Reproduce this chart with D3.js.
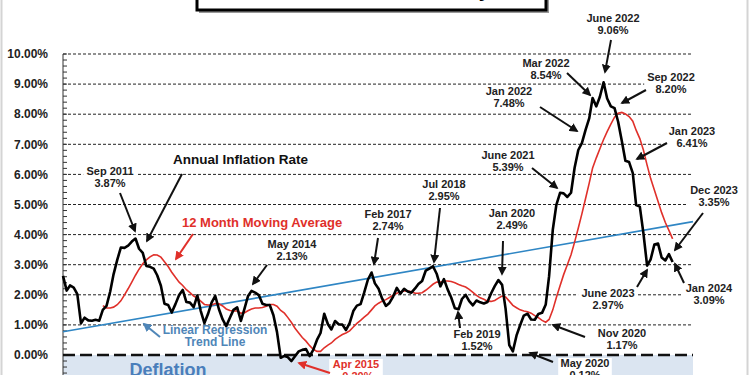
<html>
<head><meta charset="utf-8"/></head>
<script src="https://d3js.org/d3.v7.min.js"></script>
<style>
  body {margin: 0; background: #fff;}
  text {font-family: Arial, "Liberation Sans", sans-serif; font-weight: bold;}
</style>
<body>
<svg width="750" height="375"></svg>
<script>
// annual inflation rate, monthly from Jan 2010 to Jan 2024
var startYear = 2010;
var inflation = [
  2.63, 2.14, 2.31, 2.24, 2.02, 1.05, 1.24, 1.15, 1.14, 1.17, 1.14, 1.50,
  1.63, 2.11, 2.68, 3.16, 3.57, 3.56, 3.63, 3.77, 3.87, 3.53, 3.39, 2.96,
  2.93, 2.87, 2.65, 2.30, 1.70, 1.66, 1.41, 1.69, 1.99, 2.16, 1.76, 1.74,
  1.59, 1.98, 1.47, 1.06, 1.36, 1.75, 1.96, 1.52, 1.18, 0.96, 1.24, 1.50,
  1.58, 1.13, 1.51, 1.95, 2.13, 2.07, 1.99, 1.70, 1.66, 1.66, 1.32, 0.76,
  -0.09, -0.03, -0.07, -0.20, -0.04, 0.12, 0.17, 0.20, -0.04, 0.17, 0.50, 0.73,
  1.37, 1.02, 0.85, 1.13, 1.02, 1.01, 0.83, 1.06, 1.46, 1.64, 1.69, 2.07,
  2.50, 2.74, 2.38, 2.20, 1.87, 1.63, 1.73, 1.94, 2.23, 2.04, 2.20, 2.11,
  2.07, 2.21, 2.36, 2.46, 2.80, 2.87, 2.95, 2.70, 2.28, 2.52, 2.18, 1.91,
  1.55, 1.52, 1.86, 2.00, 1.79, 1.65, 1.81, 1.75, 1.71, 1.76, 2.05, 2.29,
  2.49, 2.33, 1.54, 0.33, 0.12, 0.65, 0.99, 1.31, 1.37, 1.18, 1.17, 1.36,
  1.40, 1.68, 2.62, 4.16, 4.99, 5.39, 5.37, 5.25, 5.39, 6.22, 6.81, 7.04,
  7.48, 7.87, 8.54, 8.26, 8.58, 9.06, 8.52, 8.26, 8.20, 7.75, 7.11, 6.45,
  6.41, 6.04, 4.98, 4.93, 4.05, 2.97, 3.18, 3.67, 3.70, 3.24, 3.14, 3.35,
  3.09
];

// 12 month moving average, from Dec 2010 (month index 11)
var maStart = 11;
var movingAvg = [
  1.64,
  1.56, 1.56, 1.59, 1.67, 1.80, 2.00, 2.20, 2.42, 2.65, 2.85, 3.03, 3.16,
  3.26, 3.33, 3.32, 3.25, 3.10, 2.94, 2.75, 2.58, 2.42, 2.31, 2.17, 2.07,
  1.96, 1.89, 1.79, 1.68, 1.66, 1.66, 1.71, 1.70, 1.63, 1.53, 1.48, 1.46,
  1.46, 1.39, 1.40, 1.47, 1.53, 1.56, 1.56, 1.58, 1.62, 1.68, 1.68, 1.62,
  1.48, 1.39, 1.25, 1.08, 0.89, 0.73, 0.58, 0.46, 0.31, 0.19, 0.12, 0.12,
  0.24, 0.33, 0.40, 0.52, 0.60, 0.68, 0.73, 0.80, 0.93, 1.05, 1.15, 1.26,
  1.36, 1.50, 1.63, 1.72, 1.79, 1.84, 1.91, 1.99, 2.05, 2.09, 2.13, 2.13,
  2.10, 2.05, 2.05, 2.07, 2.15, 2.25, 2.35, 2.42, 2.42, 2.46, 2.46, 2.44,
  2.40, 2.34, 2.30, 2.26, 2.18, 2.08, 1.98, 1.90, 1.85, 1.79, 1.78, 1.81,
  1.89, 1.96, 1.93, 1.79, 1.65, 1.57, 1.50, 1.46, 1.44, 1.39, 1.31, 1.24,
  1.15, 1.09, 1.18, 1.50, 1.91, 2.30, 2.67, 3.00, 3.33, 3.75, 4.22, 4.69,
  5.20, 5.72, 6.21, 6.55, 6.85, 7.16, 7.42, 7.67, 7.90, 8.03, 8.06, 8.01,
  7.92, 7.77, 7.47, 7.19, 6.81, 6.31, 5.86, 5.48, 5.10, 4.73, 4.40, 4.14,
  3.86
];

// linear regression trend line, value at left and right edge
var trendEnds = [0.77, 4.43];

var yTicks = [1, 2, 3, 4, 5, 6, 7, 8, 9, 10];
var yLabels = ["0.00%", "1.00%", "2.00%", "3.00%", "4.00%", "5.00%", "6.00%", "7.00%", "8.00%", "9.00%", "10.00%"];

// callouts: two line labels with arrows
var callouts = [
  {t: ["Sep 2011", "3.87%"], x: 110, y: 175, a: [120, 193, 135, 231]},
  {t: ["May 2014", "2.13%"], x: 292, y: 248, a: [267, 265, 253, 284]},
  {t: ["Apr 2015", "-0.20%"], x: 356, y: 368, a: [330, 373, 299, 363], c: "red"},
  {t: ["Feb 2017", "2.74%"], x: 388, y: 218, a: [378, 238, 374, 264]},
  {t: ["Jul 2018", "2.95%"], x: 444, y: 188, a: [440, 208, 434, 262]},
  {t: ["Feb 2019", "1.52%"], x: 477, y: 338, a: [460, 328, 458, 312]},
  {t: ["Jan 2020", "2.49%"], x: 512, y: 217, a: [503, 241, 502, 274]},
  {t: ["May 2020", "0.12%"], x: 585, y: 367, a: [553, 362, 530, 353]},
  {t: ["Nov 2020", "1.17%"], x: 622, y: 337, a: [585, 337, 553, 325]},
  {t: ["June 2021", "5.39%"], x: 508, y: 159, a: [532, 168, 557, 188]},
  {t: ["Jan 2022", "7.48%"], x: 509, y: 95, a: [540, 107, 577, 131]},
  {t: ["Mar 2022", "8.54%"], x: 546, y: 67, a: [567, 73, 590, 95]},
  {t: ["June 2022", "9.06%"], x: 613, y: 22, a: [611, 40, 605, 72]},
  {t: ["Sep 2022", "8.20%"], x: 671, y: 81, a: [646, 90, 622, 103]},
  {t: ["Jan 2023", "6.41%"], x: 692, y: 135, a: [667, 143, 637, 159]},
  {t: ["June 2023", "2.97%"], x: 608, y: 297, a: [637, 287, 647, 270]},
  {t: ["Dec 2023", "3.35%"], x: 714, y: 194, a: [703, 213, 675, 250]},
  {t: ["Jan 2024", "3.09%"], x: 709, y: 292, a: [684, 283, 675, 264]}
];

var colors = {black: "#111", red: "#e0302a", blue: "#4f86b8"};

var svg = d3.select("svg");
var left = 63, right = 693;

var x = d3.scaleTime()
  .domain([new Date(startYear, 0, 1), new Date(2024, 5, 20)])
  .range([left, right]);
var y = d3.scaleLinear().domain([0, 10]).range([355, 54]);

function monthDate(i) { return new Date(startYear, i, 1); }

// border
svg.append("rect").attr("x", 1.5).attr("y", -5).attr("width", 746).attr("height", 390)
  .attr("fill", "#fff").attr("stroke", "#d4d4d4").attr("stroke-width", 2);

// title box, mostly above the visible area
svg.append("rect").attr("x", 199).attr("y", -40).attr("width", 350).attr("height", 53)
  .attr("fill", "#999");
svg.append("rect").attr("x", 197).attr("y", -40).attr("width", 349).attr("height", 50)
  .attr("fill", "#fff").attr("stroke", "#000").attr("stroke-width", 3);
svg.append("text").attr("x", 371).attr("y", -3).attr("text-anchor", "middle")
  .style("font-size", "20px").text("Annual Inflation Rate, January 2024");

// deflation area
svg.append("rect").attr("x", left).attr("y", y(0)).attr("width", right - left).attr("height", 30)
  .attr("fill", "#dbe5f1");
svg.append("text").attr("x", 168).attr("y", 376).attr("text-anchor", "middle")
  .attr("fill", "#4a7ebb").style("font-size", "18px").text("Deflation");

// grid lines
svg.append("g").selectAll("line").data(yTicks).join("line")
  .attr("x1", left).attr("x2", right)
  .attr("y1", d => y(d)).attr("y2", d => y(d))
  .attr("stroke", "#222").attr("stroke-width", 1).attr("stroke-dasharray", "3,2");

// white boxes behind labels break the grid lines
var boxes = svg.append("g");
callouts.forEach(function(c) {
  var w = c.t[0].length * 6.2 + 4;
  boxes.append("rect").attr("x", c.x - w / 2).attr("y", c.y - 9)
    .attr("width", w).attr("height", 23).attr("fill", "#fff");
});

// y axis with minor ticks
svg.append("line").attr("x1", left).attr("x2", left).attr("y1", y(10)).attr("y2", 380)
  .attr("stroke", "#333").attr("stroke-width", 1);
svg.append("g").selectAll("line").data(d3.range(-3, 51).map(d => d / 5)).join("line")
  .attr("x1", left).attr("x2", left + 4)
  .attr("y1", d => y(d)).attr("y2", d => y(d))
  .attr("stroke", "#333");
svg.append("g").selectAll("text").data(yLabels).join("text")
  .attr("x", 48).attr("y", (d, i) => y(i)).attr("dy", "0.35em")
  .attr("text-anchor", "end").attr("fill", "#222").style("font-size", "12px")
  .text(d => d);

// zero line
svg.append("line").attr("x1", left).attr("x2", right).attr("y1", y(0)).attr("y2", y(0))
  .attr("stroke", "#111").attr("stroke-width", 2.5).attr("stroke-dasharray", "12,5");

// trend line
svg.append("line")
  .attr("x1", x(x.domain()[0])).attr("y1", y(trendEnds[0]))
  .attr("x2", x(x.domain()[1])).attr("y2", y(trendEnds[1]))
  .attr("stroke", "#2f86c4").attr("stroke-width", 1.6);

// moving average
var line = d3.line().x(d => x(d[0])).y(d => y(d[1]));
svg.append("path")
  .datum(movingAvg.map((v, i) => [monthDate(maStart + i), v]))
  .attr("d", line).attr("fill", "none")
  .attr("stroke", "#e0302a").attr("stroke-width", 1.6);

// annual inflation
svg.append("path")
  .datum(inflation.map((v, i) => [monthDate(i), v]))
  .attr("d", line).attr("fill", "none")
  .attr("stroke", "#000").attr("stroke-width", 2.6)
  .attr("stroke-linejoin", "round");

// arrow heads
var defs = svg.append("defs");
Object.keys(colors).forEach(function(k) {
  defs.append("marker").attr("id", "head-" + k)
    .attr("viewBox", "0 0 10 10").attr("refX", 8).attr("refY", 5)
    .attr("markerWidth", 4.5).attr("markerHeight", 4.5).attr("orient", "auto")
    .append("path").attr("d", "M0,0 L10,5 L0,10 z").attr("fill", colors[k]);
});

function arrow(a, col) {
  svg.append("line").attr("x1", a[0]).attr("y1", a[1]).attr("x2", a[2]).attr("y2", a[3])
    .attr("stroke", colors[col]).attr("stroke-width", 2)
    .attr("marker-end", "url(#head-" + col + ")");
}

callouts.forEach(function(c) {
  var col = c.c || "black";
  arrow(c.a, col);
  var t = svg.append("text").attr("x", c.x).attr("y", c.y).attr("text-anchor", "middle")
    .attr("fill", col == "red" ? colors.red : "#222").style("font-size", "11px");
  t.append("tspan").attr("x", c.x).text(c.t[0]);
  t.append("tspan").attr("x", c.x).attr("dy", 12).text(c.t[1]);
});

// series labels
svg.append("text").attr("x", 173).attr("y", 164).attr("fill", "#111")
  .style("font-size", "13.5px").text("Annual Inflation Rate");
arrow([182, 174, 147, 241], "black");

svg.append("text").attr("x", 182).attr("y", 227).attr("fill", colors.red)
  .style("font-size", "13px").text("12 Month Moving Average");
arrow([193, 234, 176, 259], "red");

var lr = svg.append("text").attr("x", 215).attr("y", 334).attr("text-anchor", "middle")
  .attr("fill", colors.blue).style("font-size", "12px");
lr.append("tspan").attr("x", 215).text("Linear Regression");
lr.append("tspan").attr("x", 215).attr("dy", 12).text("Trend Line");
arrow([160, 337, 144, 324], "blue");
</script>
</body>
</html>
